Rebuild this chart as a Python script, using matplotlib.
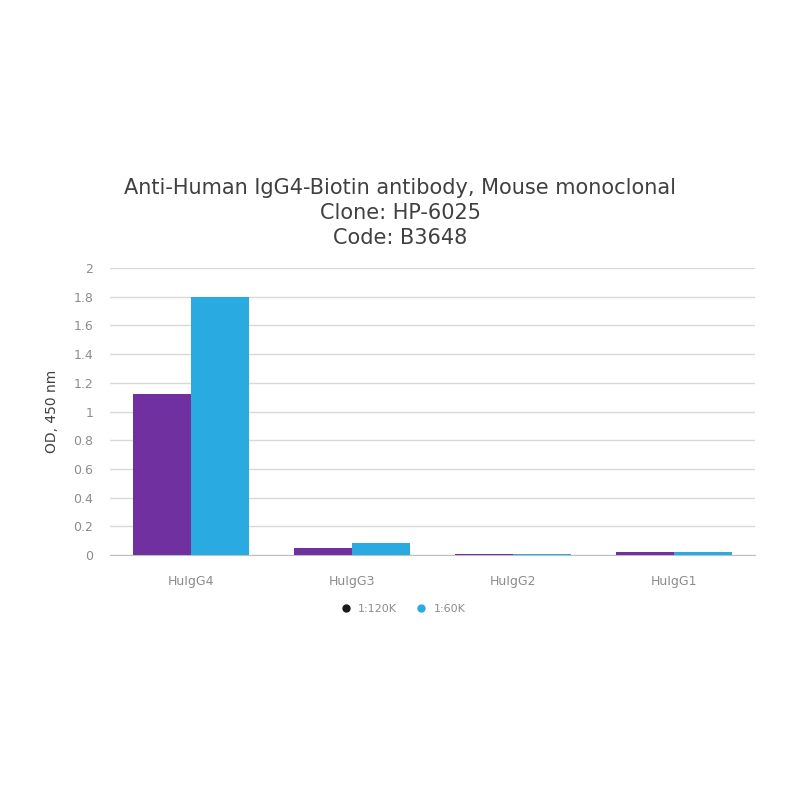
import matplotlib
matplotlib.use("Agg")
import matplotlib.pyplot as plt
import numpy as np
from matplotlib.lines import Line2D

categories = ["HuIgG4", "HuIgG3", "HuIgG2", "HuIgG1"]
series_names = ["1:120K", "1:60K"]
vals_120k = [1.12, 0.05, 0.01, 0.02]
vals_60k = [1.80, 0.085, 0.01, 0.02]
yticks = [0, 0.2, 0.4, 0.6, 0.8, 1, 1.2, 1.4, 1.6, 1.8, 2]
ytick_labels = ["0", "0.2", "0.4", "0.6", "0.8", "1", "1.2", "1.4", "1.6", "1.8", "2"]

c_purple = "#7030a0"
c_blue = "#29abe2"

fig = plt.figure(figsize=(8, 8), dpi=100)
ax = fig.add_axes([0.1375, 0.306, 0.806, 0.359])

x = np.arange(len(categories))
w = 0.36
ax.bar(x - w / 2, vals_120k, width=w, color=c_purple, zorder=3)
ax.bar(x + w / 2, vals_60k, width=w, color=c_blue, zorder=3)

ax.set_xlim(-0.5, len(categories) - 0.5)
ax.set_ylim(0, 2)
ax.set_yticks(yticks)
ax.set_yticklabels(ytick_labels)
ax.yaxis.grid(True, color="#d9d9d9", linewidth=1, zorder=0)
ax.set_axisbelow(True)
for s in ["top", "right", "left"]:
    ax.spines[s].set_visible(False)
ax.spines["bottom"].set_color("#bfbfbf")
ax.tick_params(axis="both", length=0, colors="#8c8c8c", labelsize=9)
ax.tick_params(axis="x", pad=14)
ax.tick_params(axis="y", pad=12)
ax.set_xticks(x)
ax.set_xticklabels(categories)
ax.set_ylabel("OD, 450 nm", fontsize=10, color="#404040", labelpad=10)

fig.text(0.5, 0.7335, "Anti-Human IgG4-Biotin antibody, Mouse monoclonal\nClone: HP-6025\nCode: B3648",
         ha="center", va="center", fontsize=15, color="#404040", linespacing=1.3)

handles = [Line2D([0], [0], marker="o", linestyle="", color="#1a1a1a", markersize=5),
           Line2D([0], [0], marker="o", linestyle="", color=c_blue, markersize=5)]
fig.legend(handles, series_names, loc="center", bbox_to_anchor=(0.5, 0.239), ncol=2,
           frameon=False, fontsize=8, labelcolor="#8c8c8c", handletextpad=0.1, columnspacing=1.2)

fig.savefig("out.png", dpi=100, facecolor="white")
